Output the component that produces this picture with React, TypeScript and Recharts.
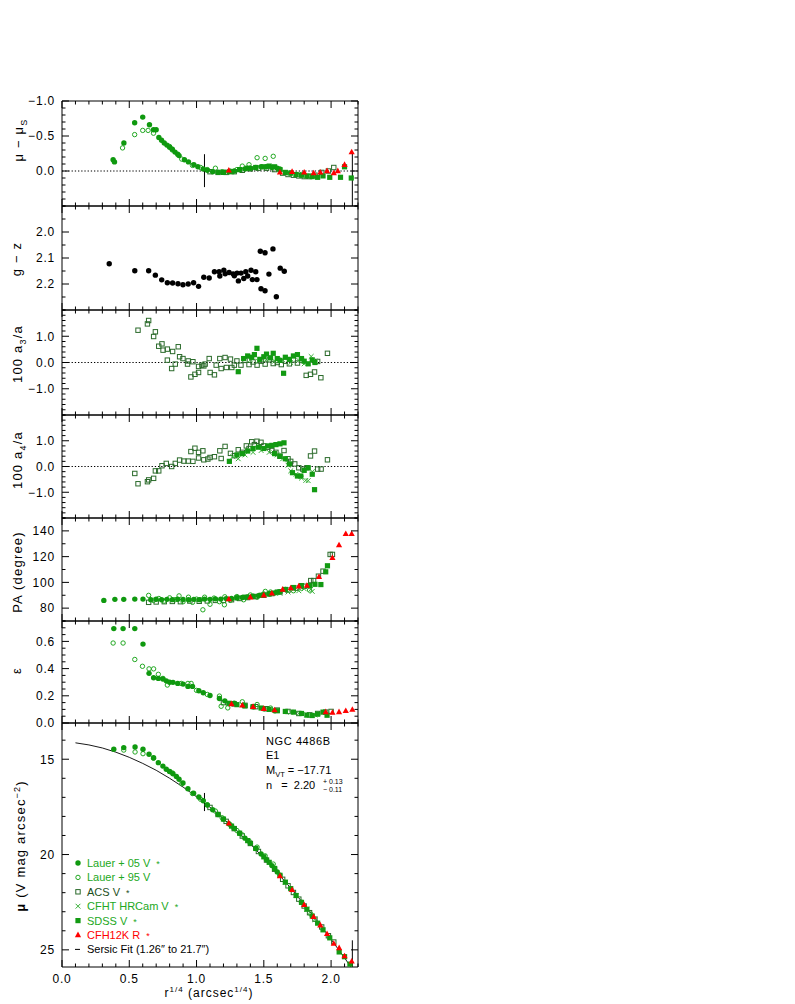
import React from 'react';
import { ScatterChart, Scatter, XAxis, YAxis, ReferenceLine } from 'recharts';

type Pt = [number, number];
type Kind = 'dot' | 'ring' | 'box' | 'fbox' | 'cross' | 'tri' | 'none';

// x axis: r^(1/4) in arcsec^(1/4)
const xTicks = [0, 0.1, 0.2, 0.3, 0.4, 0.5, 0.6, 0.7, 0.8, 0.9, 1.0, 1.1, 1.2, 1.3, 1.4, 1.5, 1.6, 1.7, 1.8, 1.9, 2.0, 2.1, 2.2];
const xLabels = [0, 0.5, 1.0, 1.5, 2.0];

// fit range 1.26" .. 21.7"
const fitInner = 1.059;
const fitOuter = 2.158;

// ---- mu - mu_S residuals
const lauer05Dmu: Pt[] = [[0.38, -0.16], [0.39, -0.13], [0.46, -0.40], [0.54, -0.69], [0.60, -0.77], [0.65, -0.66], [0.68, -0.59], [0.70, -0.59], [0.72, -0.48], [0.74, -0.44], [0.76, -0.40], [0.78, -0.37], [0.80, -0.34], [0.82, -0.31], [0.84, -0.27], [0.86, -0.24], [0.87, -0.22], [0.91, -0.16], [0.94, -0.13], [0.98, -0.09], [1.01, -0.06], [1.05, -0.03], [1.08, -0.01], [1.12, 0.01], [1.16, 0.02], [1.20, 0.02], [1.24, 0.01], [1.28, 0.0], [1.32, -0.02], [1.36, -0.03], [1.40, -0.04], [1.44, -0.05], [1.48, -0.06], [1.52, -0.06], [1.56, -0.05], [1.60, -0.04]];
const lauer95Dmu: Pt[] = [[0.45, -0.33], [0.54, -0.52], [0.60, -0.58], [0.64, -0.58], [0.68, -0.54], [0.80, -0.35], [0.82, -0.30], [0.89, -0.17], [0.97, -0.08], [1.03, -0.05], [1.08, -0.02], [1.14, -0.04], [1.19, 0.01], [1.25, 0.0], [1.30, -0.02], [1.34, -0.07], [1.39, -0.09], [1.45, -0.19], [1.51, -0.18], [1.57, -0.21], [1.62, -0.03], [1.70, 0.03], [1.78, 0.05], [1.85, 0.07]];
const acsDmu: Pt[] = [[1.10, 0.01], [1.16, 0.02], [1.22, 0.02], [1.28, 0.01], [1.34, -0.01], [1.40, -0.03], [1.46, -0.04], [1.52, -0.04], [1.58, -0.02], [1.64, 0.03], [1.68, 0.05], [1.72, 0.06], [1.76, 0.07], [1.80, 0.08], [1.84, 0.08], [1.88, 0.06], [1.93, 0.02], [1.98, 0.0], [2.02, -0.05]];
const cfhtDmu: Pt[] = [[1.66, 0.03], [1.74, 0.05], [1.82, 0.07], [1.88, 0.08]];
const sdssDmu: Pt[] = [[1.20, 0.02], [1.26, 0.01], [1.32, -0.02], [1.38, -0.04], [1.44, -0.05], [1.50, -0.06], [1.54, -0.07], [1.58, -0.06], [1.62, -0.02], [1.66, 0.02], [1.70, 0.03], [1.74, 0.05], [1.78, 0.06], [1.82, 0.07], [1.86, 0.08], [1.90, 0.09], [1.94, 0.07], [1.99, 0.09], [2.07, 0.09], [2.10, -0.06], [2.15, 0.10]];
const cfh12kDmu: Pt[] = [[1.24, -0.01], [1.62, 0.02], [1.71, 0.01], [1.80, 0.02], [1.87, 0.03], [1.92, 0.02], [1.97, 0.0], [2.02, 0.03], [2.05, 0.0], [2.10, -0.09], [2.153, -0.27]];

// ---- g - z colour
const gzColour: Pt[] = [[0.351, 2.122], [0.541, 2.149], [0.644, 2.149], [0.694, 2.166], [0.741, 2.184], [0.783, 2.195], [0.822, 2.196], [0.862, 2.199], [0.899, 2.203], [0.938, 2.20], [0.978, 2.195], [1.015, 2.209], [1.054, 2.174], [1.094, 2.177], [1.133, 2.153], [1.168, 2.153], [1.173, 2.169], [1.203, 2.147], [1.213, 2.161], [1.242, 2.156], [1.272, 2.161], [1.281, 2.168], [1.301, 2.158], [1.311, 2.188], [1.331, 2.158], [1.351, 2.179], [1.366, 2.153], [1.380, 2.169], [1.405, 2.147], [1.415, 2.183], [1.44, 2.153], [1.449, 2.183], [1.474, 2.074], [1.479, 2.218], [1.509, 2.080], [1.509, 2.226], [1.538, 2.162], [1.568, 2.065], [1.593, 2.249], [1.622, 2.139], [1.652, 2.151]];

// ---- 100 a3/a
const acsA3: Pt[] = [[0.565, 1.23], [0.635, 1.47], [0.644, 1.60], [0.681, 0.99], [0.694, 1.17], [0.719, 0.62], [0.743, 0.71], [0.751, 0.47], [0.783, 0.51], [0.783, 0.09], [0.815, -0.23], [0.822, 0.42], [0.842, -0.06], [0.864, 0.60], [0.874, 0.22], [0.899, 0.15], [0.933, -0.06], [0.938, 0.06], [0.958, -0.55], [0.973, 0.03], [0.988, -0.45], [1.015, -0.38], [1.015, -0.15], [1.04, -0.10], [1.054, -0.13], [1.064, -0.06], [1.094, 0.15], [1.101, -0.38], [1.133, -0.47], [1.146, -0.10], [1.173, 0.15], [1.183, -0.23], [1.212, 0.19], [1.222, -0.19], [1.252, 0.13], [1.262, -0.19], [1.281, -0.10], [1.30, 0.06], [1.33, -0.10], [1.36, 0.08], [1.39, -0.08], [1.42, 0.02], [1.45, -0.10], [1.48, 0.05], [1.51, -0.06], [1.54, 0.10], [1.57, -0.04], [1.60, 0.0], [1.63, -0.08], [1.66, 0.05], [1.69, -0.05], [1.72, 0.10], [1.75, -0.02], [1.78, 0.08], [1.815, -0.49], [1.847, -0.45], [1.877, -0.36], [1.90, 0.04], [1.924, -0.58], [1.973, 0.35]];
const cfhtA3: Pt[] = [[1.40, 0.10], [1.46, 0.05], [1.52, 0.12], [1.58, 0.05], [1.64, 0.10], [1.70, 0.0], [1.76, 0.08], [1.80, -0.05], [1.852, 0.23], [1.88, 0.05]];
const sdssA3: Pt[] = [[1.31, -0.35], [1.35, 0.15], [1.38, 0.25], [1.41, 0.20], [1.43, 0.30], [1.449, 0.54], [1.47, 0.12], [1.50, 0.22], [1.52, 0.32], [1.55, 0.18], [1.57, 0.35], [1.60, 0.15], [1.62, 0.08], [1.647, -0.41], [1.66, 0.20], [1.69, 0.12], [1.72, 0.25], [1.75, 0.30], [1.78, 0.15], [1.80, 0.05], [1.83, -0.05], [1.86, 0.10], [1.88, 0.0]];

// ---- 100 a4/a
const acsA4: Pt[] = [[0.541, -0.27], [0.565, -0.67], [0.635, -0.59], [0.644, -0.52], [0.681, -0.46], [0.694, -0.17], [0.719, -0.17], [0.743, 0.03], [0.775, 0.12], [0.815, 0.0], [0.842, 0.12], [0.874, 0.25], [0.906, 0.21], [0.938, 0.21], [0.958, 0.58], [0.973, 0.20], [0.988, 0.71], [1.015, 0.55], [1.015, 0.33], [1.047, 0.61], [1.054, 0.26], [1.084, 0.29], [1.10, 0.35], [1.133, 0.38], [1.173, 0.61], [1.183, 0.31], [1.212, 0.78], [1.252, 0.51], [1.281, 0.42], [1.31, 0.65], [1.34, 0.55], [1.37, 0.80], [1.39, 0.70], [1.41, 0.96], [1.43, 0.85], [1.449, 0.98], [1.479, 0.94], [1.50, 0.80], [1.53, 0.75], [1.56, 0.62], [1.59, 0.55], [1.62, 0.40], [1.65, 0.62], [1.68, 0.30], [1.70, 0.20], [1.73, 0.10], [1.76, -0.05], [1.79, -0.10], [1.82, -0.05], [1.847, 0.41], [1.877, 0.60], [1.90, -0.10], [1.926, -0.10], [1.973, 0.26]];
const cfhtA4: Pt[] = [[1.27, 0.38], [1.31, 0.30], [1.36, 0.45], [1.42, 0.55], [1.48, 0.62], [1.54, 0.55], [1.60, 0.45], [1.64, 0.30], [1.68, 0.05], [1.70, -0.17], [1.74, -0.30], [1.78, -0.45], [1.812, -0.54], [1.83, -0.55], [1.86, -0.20]];
const sdssA4: Pt[] = [[1.244, 0.20], [1.30, 0.45], [1.34, 0.50], [1.38, 0.60], [1.42, 0.70], [1.46, 0.75], [1.50, 0.70], [1.53, 0.80], [1.56, 0.82], [1.59, 0.85], [1.62, 0.88], [1.65, 0.92], [1.58, 0.50], [1.62, 0.40], [1.66, 0.30], [1.69, 0.10], [1.713, -0.24], [1.75, -0.37], [1.775, -0.37], [1.80, -0.15], [1.83, -0.05], [1.86, -0.30], [1.877, -0.90]];

// ---- position angle
const lauer05Pa: Pt[] = [[0.311, 86.0], [0.393, 86.8], [0.459, 86.8], [0.541, 87.0], [0.602, 87.0], [0.66, 86.6], [0.70, 86.9], [0.74, 86.5], [0.78, 86.8], [0.82, 86.6], [0.86, 86.9], [0.90, 86.7], [0.94, 86.5], [0.98, 86.8], [1.02, 86.6], [1.06, 87.0], [1.10, 86.8], [1.14, 87.2], [1.18, 87.0], [1.22, 87.4], [1.26, 87.5], [1.30, 88.0], [1.34, 88.3], [1.38, 88.6], [1.42, 89.2], [1.46, 89.6], [1.50, 90.3], [1.54, 91.0], [1.58, 91.8], [1.62, 92.8]];
const lauer95Pa: Pt[] = [[0.644, 89.9], [0.68, 86.0], [0.72, 87.5], [0.76, 85.5], [0.80, 88.0], [0.84, 86.5], [0.87, 89.5], [0.90, 85.0], [0.94, 88.5], [0.97, 84.5], [1.00, 87.0], [1.03, 86.5], [1.047, 78.7], [1.06, 88.5], [1.10, 83.0], [1.13, 87.8], [1.17, 85.0], [1.207, 82.6], [1.21, 88.8], [1.25, 86.0], [1.30, 89.0], [1.35, 86.5], [1.40, 90.2], [1.45, 88.5], [1.50, 91.0], [1.511, 93.0], [1.55, 92.5], [1.60, 92.0], [1.66, 94.5], [1.72, 93.5], [1.78, 95.5], [1.84, 94.0]];
const acsPa: Pt[] = [[0.644, 84.5], [0.70, 84.8], [0.76, 85.0], [0.82, 85.2], [0.88, 85.0], [0.95, 85.5], [1.02, 85.3], [1.08, 85.6], [1.14, 86.0], [1.20, 86.0], [1.26, 86.5], [1.32, 87.5], [1.38, 88.2], [1.44, 89.0], [1.50, 90.0], [1.56, 91.3], [1.62, 92.5], [1.68, 94.0], [1.74, 95.5], [1.80, 97.0], [1.849, 101.4], [1.87, 101.4], [1.906, 104.8], [1.94, 108.7], [1.993, 121.7], [2.01, 121.7]];
const cfhtPa: Pt[] = [[1.62, 91.5], [1.68, 92.5], [1.72, 94.5], [1.76, 93.5], [1.80, 95.0], [1.849, 94.6], [1.86, 93.0]];
const sdssPa: Pt[] = [[1.30, 88.0], [1.36, 88.5], [1.42, 89.0], [1.48, 90.0], [1.54, 91.0], [1.60, 92.5], [1.66, 94.5], [1.72, 96.0], [1.78, 97.5], [1.84, 97.5], [1.88, 98.5], [1.924, 98.3], [1.96, 108.2], [1.973, 112.9]];
const cfh12kPa: Pt[] = [[1.24, 87.0], [1.40, 88.5], [1.50, 90.0], [1.56, 91.5], [1.64, 94.5], [1.70, 95.5], [1.76, 97.0], [1.82, 97.5], [1.91, 104.3], [2.01, 119.1], [2.059, 129.0], [2.109, 137.7], [2.153, 137.7]];

// ---- ellipticity
const lauer05Eps: Pt[] = [[0.385, 0.694], [0.454, 0.694], [0.541, 0.694], [0.602, 0.58], [0.647, 0.365], [0.681, 0.333], [0.716, 0.328], [0.75, 0.323], [0.775, 0.31], [0.80, 0.30], [0.825, 0.299], [0.86, 0.291], [0.90, 0.286], [0.936, 0.269], [0.97, 0.269], [1.017, 0.237], [1.05, 0.222], [1.10, 0.202], [1.17, 0.18], [1.21, 0.163], [1.28, 0.146], [1.35, 0.131], [1.42, 0.12], [1.50, 0.105], [1.58, 0.09]];
const lauer95Eps: Pt[] = [[0.38, 0.588], [0.454, 0.588], [0.541, 0.467], [0.598, 0.417], [0.647, 0.398], [0.681, 0.398], [0.716, 0.358], [0.75, 0.328], [0.783, 0.279], [0.886, 0.291], [0.936, 0.291], [0.96, 0.291], [1.0, 0.24], [1.08, 0.21], [1.17, 0.198], [1.183, 0.123], [1.232, 0.111], [1.34, 0.156], [1.45, 0.136], [1.55, 0.11]];
const acsEps: Pt[] = [[1.20, 0.15], [1.28, 0.14], [1.36, 0.13], [1.44, 0.12], [1.52, 0.105], [1.60, 0.095], [1.68, 0.085], [1.76, 0.07], [1.84, 0.06], [1.90, 0.07], [1.96, 0.08], [2.0, 0.085]];
const cfhtEps: Pt[] = [[1.70, 0.08], [1.76, 0.07], [1.82, 0.06], [1.88, 0.06]];
const sdssEps: Pt[] = [[1.24, 0.145], [1.30, 0.135], [1.36, 0.125], [1.42, 0.12], [1.48, 0.11], [1.54, 0.10], [1.60, 0.09], [1.66, 0.085], [1.72, 0.08], [1.78, 0.07], [1.82, 0.058], [1.86, 0.055], [1.90, 0.065], [1.94, 0.08], [1.97, 0.057]];
const cfh12kEps: Pt[] = [[1.26, 0.14], [1.34, 0.13], [1.42, 0.12], [1.50, 0.105], [1.58, 0.095], [1.96, 0.081], [2.01, 0.077], [2.059, 0.081], [2.109, 0.089], [2.158, 0.099]];

// ---- surface brightness profile
const lauer05Mu: Pt[] = [[0.385, 14.48], [0.459, 14.39], [0.543, 14.36], [0.602, 14.48], [0.647, 14.74], [0.681, 14.92], [0.716, 15.18], [0.75, 15.36], [0.775, 15.53], [0.80, 15.64], [0.825, 15.76], [0.85, 15.90], [0.87, 16.05], [0.899, 16.25], [0.936, 16.55], [0.978, 16.78], [1.017, 16.98], [1.05, 17.18], [1.08, 17.40], [1.12, 17.65], [1.16, 17.90], [1.20, 18.14], [1.24, 18.38], [1.28, 18.63], [1.32, 18.88], [1.36, 19.14], [1.40, 19.41], [1.44, 19.68], [1.48, 19.97], [1.52, 20.27], [1.56, 20.58], [1.60, 20.91]];
const lauer95Mu: Pt[] = [[0.459, 14.52], [0.543, 14.62], [0.602, 14.71], [0.68, 14.95], [0.80, 15.65], [0.82, 15.72], [0.89, 16.29], [0.97, 16.80], [1.03, 17.10], [1.08, 17.39], [1.14, 17.72], [1.19, 18.07], [1.25, 18.44], [1.30, 18.74], [1.34, 18.97], [1.39, 19.29], [1.45, 19.61], [1.51, 20.07], [1.57, 20.50], [1.62, 21.08], [1.70, 21.79], [1.78, 22.50], [1.85, 23.13]];
const acsMu: Pt[] = [[1.10, 17.53], [1.16, 17.90], [1.22, 18.26], [1.28, 18.64], [1.34, 19.03], [1.40, 19.42], [1.46, 19.84], [1.52, 20.29], [1.58, 20.77], [1.64, 21.30], [1.68, 21.64], [1.72, 21.99], [1.76, 22.34], [1.80, 22.70], [1.84, 23.05], [1.88, 23.39], [1.93, 23.80], [1.98, 24.26], [2.02, 24.59]];
const cfhtMu: Pt[] = [[1.66, 21.46], [1.74, 22.15], [1.82, 22.87], [1.88, 23.41]];
const sdssMu: Pt[] = [[1.20, 18.14], [1.26, 18.51], [1.32, 18.88], [1.38, 19.27], [1.44, 19.68], [1.50, 20.12], [1.54, 20.41], [1.58, 20.73], [1.62, 21.09], [1.66, 21.45], [1.70, 21.79], [1.74, 22.15], [1.78, 22.51], [1.82, 22.87], [1.86, 23.23], [1.90, 23.60], [1.94, 23.95], [1.99, 24.37], [2.06, 25.11], [2.10, 25.36], [2.14, 25.75]];
const cfh12kMu: Pt[] = [[1.24, 18.36], [1.62, 21.13], [1.71, 21.85], [1.80, 22.64], [1.87, 23.27], [1.92, 23.71], [1.97, 24.16], [2.02, 24.67], [2.06, 24.90], [2.10, 25.33], [2.153, 25.60]];
const sersicFit: Pt[] = [[0.10, 14.14], [0.20, 14.25], [0.30, 14.41], [0.40, 14.63], [0.50, 14.90], [0.60, 15.22], [0.70, 15.58], [0.80, 16.00], [0.90, 16.46], [1.00, 16.97], [1.10, 17.52], [1.20, 18.12], [1.30, 18.76], [1.40, 19.45], [1.50, 20.18], [1.60, 20.95], [1.70, 21.76], [1.80, 22.62], [1.90, 23.51], [2.00, 24.45], [2.10, 25.42], [2.16, 26.03]];

// y ticks per panel
const dmuTicks = [-1.0, -0.9, -0.8, -0.7, -0.6, -0.5, -0.4, -0.3, -0.2, -0.1, 0.0, 0.1, 0.2, 0.3, 0.4, 0.5];
const dmuLabels = [-1.0, -0.5, 0.0];
const gzTicks = [1.9, 1.95, 2.0, 2.05, 2.1, 2.15, 2.2, 2.25, 2.3];
const gzLabels = [2.0, 2.1, 2.2];
const aTicks = [-2.0, -1.8, -1.6, -1.4, -1.2, -1.0, -0.8, -0.6, -0.4, -0.2, 0.0, 0.2, 0.4, 0.6, 0.8, 1.0, 1.2, 1.4, 1.6, 1.8, 2.0];
const aLabels = [-1.0, 0.0, 1.0];
const paTicks = [70, 80, 90, 100, 110, 120, 130, 140, 150];
const paLabels = [80, 100, 120, 140];
const epsTicks = [0.0, 0.05, 0.1, 0.15, 0.2, 0.25, 0.3, 0.35, 0.4, 0.45, 0.5, 0.55, 0.6, 0.65, 0.7, 0.75];
const epsLabels = [0.0, 0.2, 0.4, 0.6];
const muTicks = [14, 15, 16, 17, 18, 19, 20, 21, 22, 23, 24, 25];
const muLabels = [15, 20, 25];

const C05 = '#0f990f';
const C95 = '#22a822';
const CACS = '#2a6a2a';
const CCFHT = '#36b036';
const CSDSS = '#129a12';
const CRED = '#ff0000';
const FONT = '"Liberation Sans", Arial, Helvetica, sans-serif';

const minus = (s: string) => s.replace('-', '\u2212');

function drawMarker(kind: Kind, color: string, cx: number, cy: number) {
  switch (kind) {
    case 'dot':
      return <circle cx={cx} cy={cy} r={2.7} fill={color} />;
    case 'ring':
      return <circle cx={cx} cy={cy} r={2.2} fill="none" stroke={color} strokeWidth={1} />;
    case 'box':
      return <rect x={cx - 2.2} y={cy - 2.2} width={4.4} height={4.4} fill="none" stroke={color} strokeWidth={1} />;
    case 'fbox':
      return <rect x={cx - 2.6} y={cy - 2.6} width={5.2} height={5.2} fill={color} />;
    case 'cross':
      return <path d={`M${cx - 2.4},${cy - 2.4}L${cx + 2.4},${cy + 2.4}M${cx - 2.4},${cy + 2.4}L${cx + 2.4},${cy - 2.4}`} stroke={color} strokeWidth={1} />;
    case 'tri':
      return <path d={`M${cx},${cy - 3.4}L${cx + 3.1},${cy + 2.2}L${cx - 3.1},${cy + 2.2}Z`} fill={color} />;
    default:
      return <g />;
  }
}

const shapeOf = (kind: Kind, color: string) => (p: any) => drawMarker(kind, color, p.cx, p.cy);

const isIn = (list: number[], v: number) => list.some((m) => Math.abs(m - v) < 1e-6);

const xTick = (side: 'bottom' | 'top', withLabels: boolean) => (p: any) => {
  const v = p.payload.value;
  const major = isIn(xLabels, v);
  const len = major ? 7 : 3.5;
  const dir = side === 'bottom' ? -1 : 1;
  return (
    <g>
      <line x1={p.x} x2={p.x} y1={p.y} y2={p.y + dir * len} stroke="#000" strokeWidth={1} />
      {withLabels && major && (
        <text x={p.x} y={p.y + 16} textAnchor="middle" fontSize={12} fontFamily={FONT} letterSpacing={0.8} fill="#000">
          {v.toFixed(1)}
        </text>
      )}
    </g>
  );
};

const yTick = (side: 'left' | 'right', labels: number[], fmt?: (v: number) => string) => (p: any) => {
  const v = p.payload.value;
  const major = isIn(labels, v);
  const len = major ? 7 : 3.5;
  const dir = side === 'left' ? 1 : -1;
  return (
    <g>
      <line x1={p.x} x2={p.x + dir * len} y1={p.y} y2={p.y} stroke="#000" strokeWidth={1} />
      {fmt && major && (
        <text x={p.x - 7} y={p.y} dy="0.36em" textAnchor="end" fontSize={12} fontFamily={FONT} letterSpacing={0.8} fill="#000">
          {fmt(v)}
        </text>
      )}
    </g>
  );
};

interface SeriesDef {
  data: Pt[];
  kind: Kind;
  color: string;
  line?: boolean;
}

interface Seg {
  x: number;
  y1: number;
  y2: number;
}

interface PanelProps {
  top: number;
  height: number;
  domain: [number, number];
  reversed?: boolean;
  ticks: number[];
  labels: number[];
  fmt: (v: number) => string;
  series: SeriesDef[];
  zeroLine?: boolean;
  bottomAxis?: boolean;
  segments?: Seg[];
}

function Panel({ top, height, domain, reversed, ticks, labels, fmt, series, zeroLine, bottomAxis, segments }: PanelProps) {
  const padTop = 10;
  const padBottom = bottomAxis ? 40 : 10;
  return (
    <div style={{ position: 'absolute', left: 0, top: top - padTop }}>
      <ScatterChart width={372} height={height + padTop + padBottom} margin={{ top: padTop - 1, right: 13, bottom: padBottom - 1, left: 0 }}>
        <XAxis xAxisId="b" dataKey="x" type="number" domain={[0, 2.2]} ticks={xTicks} interval={0} allowDataOverflow height={1} tickSize={0} tickMargin={0} tickLine={false} axisLine={{ stroke: '#000' }} tick={xTick('bottom', !!bottomAxis)} />
        <XAxis xAxisId="t" orientation="top" dataKey="x" type="number" domain={[0, 2.2]} ticks={xTicks} interval={0} allowDataOverflow height={1} tickSize={0} tickMargin={0} tickLine={false} axisLine={{ stroke: '#000' }} tick={xTick('top', false)} />
        <YAxis yAxisId="l" dataKey="y" type="number" domain={domain} reversed={reversed} ticks={ticks} interval={0} allowDataOverflow width={62} tickSize={0} tickMargin={0} tickLine={false} axisLine={{ stroke: '#000' }} tick={yTick('left', labels, fmt)} />
        <YAxis yAxisId="r" orientation="right" dataKey="y" type="number" domain={domain} reversed={reversed} ticks={ticks} interval={0} allowDataOverflow width={1} tickSize={0} tickMargin={0} tickLine={false} axisLine={{ stroke: '#000' }} tick={yTick('right', labels)} />
        {zeroLine && <ReferenceLine xAxisId="b" yAxisId="l" y={0} stroke="#000" strokeWidth={1} strokeDasharray="1.3 1.9" />}
        {(segments || []).map((s, i) => (
          <ReferenceLine key={'s' + i} xAxisId="b" yAxisId="l" segment={[{ x: s.x, y: s.y1 }, { x: s.x, y: s.y2 }]} stroke="#000" strokeWidth={1} />
        ))}
        {series.map((s, i) => (
          <Scatter
            key={i}
            xAxisId="b"
            yAxisId="l"
            data={s.data.map(([x, y]) => ({ x, y }))}
            shape={shapeOf(s.kind, s.color)}
            line={s.line ? { stroke: s.color, strokeWidth: 0.9 } : false}
            isAnimationActive={false}
          />
        ))}
        {/* keep the top and right axes bound to a (empty) series */}
        <Scatter xAxisId="t" yAxisId="r" data={[]} isAnimationActive={false} />
      </ScatterChart>
    </div>
  );
}

const f1 = (v: number) => minus(v.toFixed(1));
const f0 = (v: number) => v.toFixed(0);

const legendItems: { kind: Kind; color: string; text: string; textColor: string; star: boolean }[] = [
  { kind: 'dot', color: C05, text: 'Lauer + 05 V', textColor: C95, star: true },
  { kind: 'ring', color: C95, text: 'Lauer + 95 V', textColor: C95, star: false },
  { kind: 'box', color: CACS, text: 'ACS V', textColor: '#1c4f1c', star: true },
  { kind: 'cross', color: CCFHT, text: 'CFHT HRCam V', textColor: C95, star: true },
  { kind: 'fbox', color: CSDSS, text: 'SDSS V', textColor: C95, star: true },
  { kind: 'tri', color: CRED, text: 'CFH12K R', textColor: CRED, star: true },
  { kind: 'none', color: '#000', text: 'Sersic Fit (1.26\u2033 to 21.7\u2033)', textColor: '#000', star: false },
];

function Overlay() {
  const t = { fontFamily: FONT, fill: '#000' } as const;
  return (
    <svg width={795} height={1004} style={{ position: 'absolute', left: 0, top: 0, pointerEvents: 'none' }}>
      {/* y axis titles */}
      <text transform="translate(23,140) rotate(-90)" textAnchor="middle" fontSize={13} letterSpacing={1.2} {...t}>
        {'\u03bc \u2212 \u03bc'}
        <tspan fontSize={9} dy={4}>S</tspan>
      </text>
      <text transform="translate(21,259) rotate(-90)" textAnchor="middle" fontSize={13} letterSpacing={1.2} {...t}>g {'\u2212'} z</text>
      <text transform="translate(22,354) rotate(-90)" textAnchor="middle" fontSize={13} letterSpacing={1.2} {...t}>
        100 a<tspan fontSize={9} dy={4}>3</tspan><tspan dy={-4}>/a</tspan>
      </text>
      <text transform="translate(22,460) rotate(-90)" textAnchor="middle" fontSize={13} letterSpacing={1.2} {...t}>
        100 a<tspan fontSize={9} dy={4}>4</tspan><tspan dy={-4}>/a</tspan>
      </text>
      <text transform="translate(22,572) rotate(-90)" textAnchor="middle" fontSize={13} letterSpacing={1.2} {...t}>PA (degree)</text>
      <text transform="translate(21,671) rotate(-90)" textAnchor="middle" fontSize={13} {...t}>{'\u03b5'}</text>
      <text transform="translate(25,846) rotate(-90)" textAnchor="middle" fontSize={13} letterSpacing={1.2} {...t}>
        <tspan fontWeight="bold">{'\u03bc'}</tspan> (V mag arcsec<tspan fontSize={9} dy={-5}>{'\u22122'}</tspan><tspan dy={5}>)</tspan>
      </text>

      {/* x axis title */}
      <text x={209} y={997} textAnchor="middle" fontSize={12} letterSpacing={1} {...t}>
        r<tspan fontSize={8} dy={-5}>1/4</tspan><tspan dy={5}> (arcsec</tspan><tspan fontSize={8} dy={-5}>1/4</tspan><tspan dy={5}>)</tspan>
      </text>

      {/* galaxy annotation */}
      <text x={266} y={745} fontSize={11} letterSpacing={0.6} {...t}>NGC 4486B</text>
      <text x={266} y={759} fontSize={11} {...t}>E1</text>
      <text x={266} y={774} fontSize={11} {...t}>
        M<tspan fontSize={7.5} dy={2.5}>VT</tspan><tspan dy={-2.5}>{'  =  \u221217.71'}</tspan>
      </text>
      <text x={266} y={789} fontSize={11} {...t} xmlSpace="preserve">{'n   =  2.20'}</text>
      <text x={323} y={784} fontSize={7} {...t}>+ 0.13</text>
      <text x={323} y={792} fontSize={7} {...t}>{'\u2212 0.11'}</text>

      {/* legend */}
      {legendItems.map((it, i) => {
        const cy = 863 + i * 14.4;
        return (
          <g key={it.text}>
            {it.kind === 'none' ? (
              <line x1={75} x2={80} y1={cy} y2={cy} stroke="#000" strokeWidth={1} />
            ) : (
              drawMarker(it.kind, it.color, 78, cy)
            )}
            <text x={87} y={cy + 4} fontSize={11} fontFamily={FONT} fill={it.textColor}>
              {it.text}
              {it.star && <tspan dx={6} fontSize={9}>*</tspan>}
            </text>
          </g>
        );
      })}
    </svg>
  );
}

export default function App() {
  return (
    <div style={{ position: 'absolute', left: 0, top: 0, width: 795, height: 1004, background: '#fff', fontFamily: FONT }}>
      <Panel
        top={101}
        height={105}
        domain={[-1.0, 0.5]}
        reversed
        ticks={dmuTicks}
        labels={dmuLabels}
        fmt={f1}
        zeroLine
        segments={[{ x: fitInner, y1: -0.24, y2: 0.23 }, { x: fitOuter, y1: -0.27, y2: 0.5 }]}
        series={[
          { data: acsDmu, kind: 'box', color: CACS },
          { data: lauer95Dmu, kind: 'ring', color: C95 },
          { data: cfhtDmu, kind: 'cross', color: CCFHT },
          { data: sdssDmu, kind: 'fbox', color: CSDSS },
          { data: lauer05Dmu, kind: 'dot', color: C05 },
          { data: cfh12kDmu, kind: 'tri', color: CRED },
        ]}
      />
      <Panel
        top={206}
        height={104}
        domain={[1.9, 2.3]}
        reversed
        ticks={gzTicks}
        labels={gzLabels}
        fmt={f1}
        series={[{ data: gzColour, kind: 'dot', color: '#000' }]}
      />
      <Panel
        top={310}
        height={105}
        domain={[-2, 2]}
        ticks={aTicks}
        labels={aLabels}
        fmt={f1}
        zeroLine
        series={[
          { data: acsA3, kind: 'box', color: CACS },
          { data: cfhtA3, kind: 'cross', color: CCFHT },
          { data: sdssA3, kind: 'fbox', color: CSDSS },
        ]}
      />
      <Panel
        top={415}
        height={103}
        domain={[-2, 2]}
        ticks={aTicks}
        labels={aLabels}
        fmt={f1}
        zeroLine
        series={[
          { data: acsA4, kind: 'box', color: CACS },
          { data: cfhtA4, kind: 'cross', color: CCFHT },
          { data: sdssA4, kind: 'fbox', color: CSDSS },
        ]}
      />
      <Panel
        top={518}
        height={103}
        domain={[70, 150]}
        ticks={paTicks}
        labels={paLabels}
        fmt={f0}
        series={[
          { data: acsPa, kind: 'box', color: CACS },
          { data: lauer95Pa, kind: 'ring', color: C95 },
          { data: cfhtPa, kind: 'cross', color: CCFHT },
          { data: sdssPa, kind: 'fbox', color: CSDSS },
          { data: lauer05Pa, kind: 'dot', color: C05 },
          { data: cfh12kPa, kind: 'tri', color: CRED },
        ]}
      />
      <Panel
        top={621}
        height={102}
        domain={[0, 0.75]}
        ticks={epsTicks}
        labels={epsLabels}
        fmt={f1}
        series={[
          { data: acsEps, kind: 'box', color: CACS },
          { data: lauer95Eps, kind: 'ring', color: C95 },
          { data: cfhtEps, kind: 'cross', color: CCFHT },
          { data: sdssEps, kind: 'fbox', color: CSDSS },
          { data: lauer05Eps, kind: 'dot', color: C05 },
          { data: cfh12kEps, kind: 'tri', color: CRED },
        ]}
      />
      <Panel
        top={723}
        height={244}
        domain={[13.1, 25.9]}
        reversed
        ticks={muTicks}
        labels={muLabels}
        fmt={f0}
        bottomAxis
        segments={[{ x: fitInner, y1: 16.77, y2: 17.72 }, { x: fitOuter, y1: 24.5, y2: 25.9 }]}
        series={[
          { data: sersicFit, kind: 'none', color: '#000', line: true },
          { data: acsMu, kind: 'box', color: CACS },
          { data: lauer95Mu, kind: 'ring', color: C95 },
          { data: cfhtMu, kind: 'cross', color: CCFHT },
          { data: sdssMu, kind: 'fbox', color: CSDSS },
          { data: lauer05Mu, kind: 'dot', color: C05 },
          { data: cfh12kMu, kind: 'tri', color: CRED },
        ]}
      />
      <Overlay />
    </div>
  );
}
